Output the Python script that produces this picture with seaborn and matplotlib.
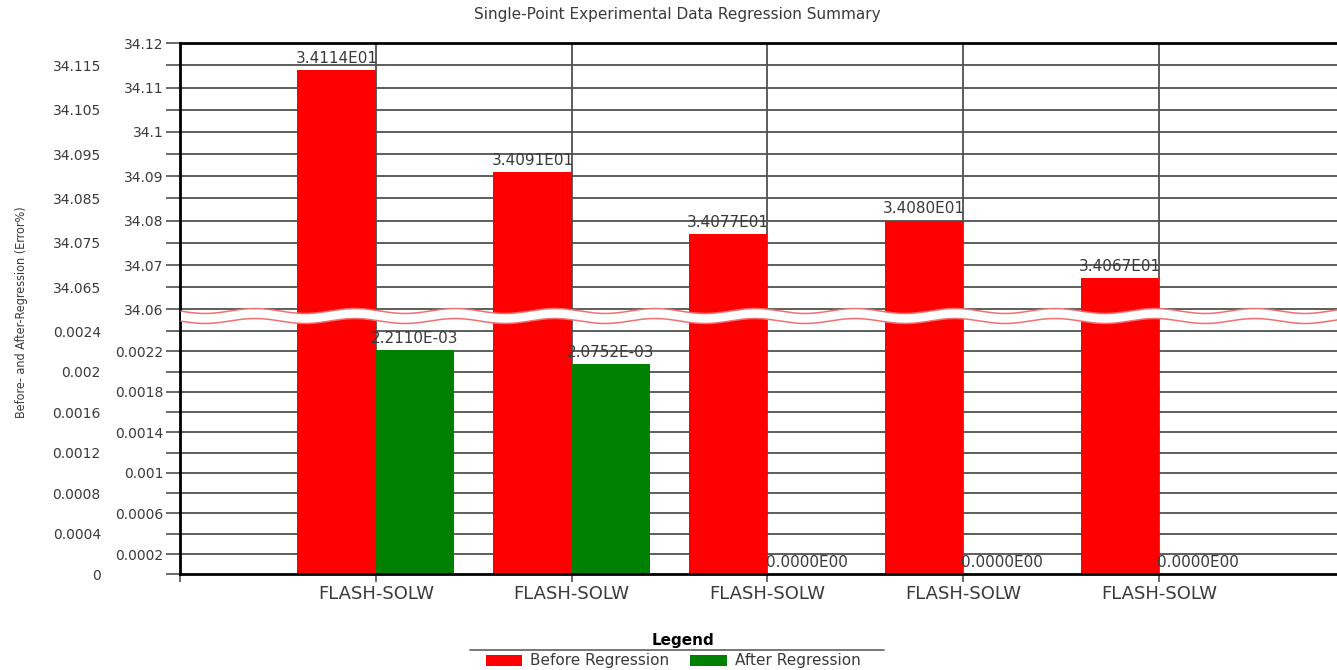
import numpy as np
import pandas as pd
import matplotlib
matplotlib.use("Agg")
import matplotlib.pyplot as plt
from matplotlib.patches import Patch, Polygon
from matplotlib.lines import Line2D
import seaborn as sns

# ---- data ----
categories = ["FLASH-SOLW", "FLASH-SOLW", "FLASH-SOLW", "FLASH-SOLW", "FLASH-SOLW"]
before_regression = [34.114, 34.091, 34.077, 34.080, 34.067]
after_regression = [0.0022110, 0.0020752, 0.0, 0.0, 0.0]
series_names = ["Before Regression", "After Regression"]
title = "Single-Point Experimental Data Regression Summary"
ylabel = "Before- and After-Regression (Error%)"

upper_major = [34.06, 34.07, 34.08, 34.09, 34.10, 34.11, 34.12]
upper_major_labels = ["34.06", "34.07", "34.08", "34.09", "34.1", "34.11", "34.12"]
upper_minor = [34.065, 34.075, 34.085, 34.095, 34.105, 34.115]
upper_minor_labels = ["34.065", "34.075", "34.085", "34.095", "34.105", "34.115"]
lower_major = [0.0002, 0.0006, 0.0010, 0.0014, 0.0018, 0.0022]
lower_major_labels = ["0.0002", "0.0006", "0.001", "0.0014", "0.0018", "0.0022"]
lower_minor = [0.0, 0.0004, 0.0008, 0.0012, 0.0016, 0.0020, 0.0024]
lower_minor_labels = ["0", "0.0004", "0.0008", "0.0012", "0.0016", "0.002", "0.0024"]

idx = list(range(len(categories)))
df = pd.DataFrame({
    "idx": idx * 2,
    "value": before_regression + after_regression,
    "series": [series_names[0]] * len(idx) + [series_names[1]] * len(idx),
})
palette = {series_names[0]: "#ff0000", series_names[1]: "#008000"}


def fmt_sci(v):
    m, e = f"{v:.4E}".split("E")
    e = int(e)
    return f"{m}E{'-' if e < 0 else ''}{abs(e):02d}"


sns.set_theme(style="white")
plt.rcParams["font.family"] = ["DejaVu Sans"]

W, H = 1337, 670
fig = plt.figure(figsize=(W / 100, H / 100), dpi=100)

left_px, right_px = 180, 1337
top_px, break_px, bottom_px = 43.3, 316, 574.3


def fx(px):
    return px / W


def fy(py):
    return 1 - py / H


ax_up = fig.add_axes([fx(left_px), fy(break_px), fx(right_px - left_px), (break_px - top_px) / H])
ax_lo = fig.add_axes([fx(left_px), fy(bottom_px), fx(right_px - left_px), (bottom_px - break_px) / H])

grid_col = "#505050"
text_col = "#3a3a3a"

for ax in (ax_up, ax_lo):
    sns.barplot(data=df, x="idx", y="value", hue="series", hue_order=series_names,
                palette=palette, saturation=1, width=0.8, linewidth=0,
                legend=False, ax=ax, zorder=2)
    ax.set_xlim(-1, (right_px - 376) / 195.75)
    ax.set_xlabel("")
    ax.set_ylabel("")
    ax.set_xticks([-1] + idx)
    ax.grid(False)
    for xv in idx:
        ax.axvline(xv, color=grid_col, lw=1.3, zorder=1)
    ax.spines["right"].set_visible(False)
    for s in ("left", "top", "bottom"):
        ax.spines[s].set_color("black")
        ax.spines[s].set_linewidth(2)
        ax.spines[s].set_zorder(3)
    ax.tick_params(axis="y", which="both", direction="out", length=10, width=1.2,
                   color=grid_col, labelsize=10, labelcolor=text_col, left=True)
    ax.tick_params(axis="y", which="major", pad=2)
    ax.tick_params(axis="y", which="minor", pad=47)

# upper axes
ax_up.set_ylim(34.0585, 34.12)
ax_up.set_yticks(upper_major)
ax_up.set_yticklabels(upper_major_labels)
ax_up.set_yticks(upper_minor, minor=True)
ax_up.set_yticklabels(upper_minor_labels, minor=True)
ax_up.spines["bottom"].set_visible(False)
ax_up.tick_params(axis="x", which="both", bottom=False, labelbottom=False)
for yv in upper_major[:-1] + upper_minor:
    ax_up.axhline(yv, color=grid_col, lw=1.3, zorder=1)
ax_up.bar_label(ax_up.containers[0], labels=[fmt_sci(v) for v in before_regression],
                padding=3, fontsize=11, color=text_col)

# lower axes
ax_lo.set_ylim(0, 0.002549)
ax_lo.set_yticks(lower_major)
ax_lo.set_yticklabels(lower_major_labels)
ax_lo.set_yticks(lower_minor, minor=True)
ax_lo.set_yticklabels(lower_minor_labels, minor=True)
ax_lo.spines["top"].set_visible(False)
for yv in lower_major + lower_minor[1:]:
    ax_lo.axhline(yv, color=grid_col, lw=1.3, zorder=1)
ax_lo.set_xticklabels([""] + categories)
ax_lo.tick_params(axis="x", which="major", direction="out", length=6, width=1.2,
                  color=grid_col, labelsize=13, labelcolor=text_col, pad=2, bottom=True)
ax_lo.bar_label(ax_lo.containers[1], labels=[fmt_sci(v) for v in after_regression],
                padding=3, fontsize=11, color=text_col)

# break band (wavy)
xs = np.linspace(left_px + 1, right_px, 400)
yt = 311 + 2.5 * np.sin(2 * np.pi * (xs - 180) / 100.0)
yb = yt + 10
poly = np.column_stack([np.r_[xs, xs[::-1]], np.r_[yt, yb[::-1]]])
poly_fig = np.column_stack([fx(poly[:, 0]), fy(poly[:, 1])])
fig.add_artist(Polygon(poly_fig, closed=True, facecolor="white", edgecolor="none",
                       transform=fig.transFigure, zorder=10))
fig.add_artist(Line2D(fx(xs), fy(yt), color="#f07070", lw=1.1, transform=fig.transFigure, zorder=11))
fig.add_artist(Line2D(fx(xs), fy(yb), color="#f07070", lw=1.1, transform=fig.transFigure, zorder=11))

# title and y label
fig.text(fx(677), fy(15), title, ha="center", va="center", fontsize=11, color=text_col)
fig.text(fx(22), fy(312), ylabel, ha="center", va="center", rotation=90,
         fontsize=9, color=text_col, fontstretch="condensed")

# legend
fig.text(fx(683), fy(640), "Legend", ha="center", va="center", fontsize=11,
         fontweight="bold", color="black")
handles = [Patch(facecolor=palette[s], edgecolor="none") for s in series_names]
leg = fig.legend(handles, series_names, loc="center",
                 bbox_to_anchor=(fx(673), fy(661)), ncol=2, frameon=False,
                 fontsize=11, handlelength=2.4, handleheight=0.75, handletextpad=0.5,
                 columnspacing=1.4, borderpad=0, borderaxespad=0)
for t in leg.get_texts():
    t.set_color(text_col)
fig.add_artist(Line2D([fx(470), fx(884)], [fy(650), fy(650)], color="#606060", lw=1.2,
                      transform=fig.transFigure))

fig.savefig("out.png", dpi=100)
